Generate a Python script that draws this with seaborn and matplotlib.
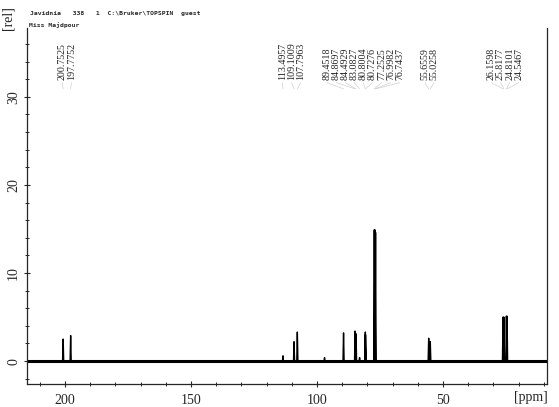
import matplotlib
matplotlib.use("Agg")
import matplotlib.pyplot as plt
import numpy as np
import pandas as pd
import seaborn as sns
from matplotlib.ticker import MultipleLocator

# labelled peaks (ppm) and their heights [rel]
PEAK_PPM = [200.7525, 197.7752, 113.4957, 109.1009, 107.7963, 89.4518,
            84.8697, 84.4929, 83.0827, 80.8004, 80.7276, 77.2525, 76.9982,
            76.7437, 55.6559, 55.0258, 26.1598, 25.8177, 24.8101, 24.5467]
PEAK_HEIGHT = [2.5, 2.9, 0.6, 2.2, 3.3, 3.2, 3.4, 3.1, 0.4, 3.3, 3.0,
               14.9, 14.9, 14.6, 2.6, 2.2, 5.0, 5.0, 5.1, 5.1]
# small unlabelled bump
EXTRA_PPM = [97.0]
EXTRA_HEIGHT = [0.4]

HEADER_1 = r"Javidnia   338   1  C:\Bruker\TOPSPIN  guest"
HEADER_2 = "Miss Majdpour"

X_RANGE = (215.1, 8.7)
Y_RANGE = (-2.6, 37.8)


def spectrum_frame(ppm, height, half_width=0.22):
    peaks = sorted(zip(ppm, height), key=lambda t: -t[0])
    xs, ys = [X_RANGE[0]], [0.0]
    for p, h in peaks:
        xs += [p + half_width, p, p - half_width]
        ys += [0.0, h, 0.0]
    xs.append(X_RANGE[1])
    ys.append(0.0)
    return pd.DataFrame({"ppm": xs, "rel": ys})


def label_positions(ppm, gap=3.6):
    clusters = [[p] for p in sorted(ppm, reverse=True)]

    def spread(c):
        mid = np.mean(c)
        n = len(c)
        return [mid + gap * ((n - 1) / 2 - i) for i in range(n)]

    merged = True
    while merged:
        merged = False
        for i in range(len(clusters) - 1):
            if spread(clusters[i])[-1] - spread(clusters[i + 1])[0] < gap:
                clusters[i] = clusters[i] + clusters.pop(i + 1)
                merged = True
                break
    out = []
    for c in clusters:
        out += list(zip(c, spread(c)))
    return out


def main() -> None:
    sns.set_style("ticks")
    plt.rcParams["font.family"] = ["Liberation Serif", "DejaVu Serif"]

    fig = plt.figure(figsize=(5.59, 4.07), dpi=100)
    ax = fig.add_axes([0.0483, 0.0565, 0.9302, 0.8745])

    df = spectrum_frame(PEAK_PPM + EXTRA_PPM, PEAK_HEIGHT + EXTRA_HEIGHT)
    ax.axhline(0, color="black", lw=2.2, zorder=1)
    sns.lineplot(data=df, x="ppm", y="rel", estimator=None, sort=False,
                 color="black", lw=1.0, ax=ax, zorder=2)

    for peak, lx in label_positions(PEAK_PPM):
        ax.text(lx, 31.9, f"{peak:.4f}", rotation=90, ha="center", va="bottom",
                fontsize=7.2, color="#222222")
        ax.plot([lx, peak], [31.6, 30.9], color="#d0d0d0", lw=0.5)

    ax.set_xlim(*X_RANGE)
    ax.set_ylim(*Y_RANGE)
    ax.xaxis.set_major_locator(MultipleLocator(50))
    ax.xaxis.set_minor_locator(MultipleLocator(10))
    ax.yaxis.set_major_locator(MultipleLocator(10))
    ax.yaxis.set_minor_locator(MultipleLocator(2))
    ax.tick_params(which="major", direction="inout", length=4, width=0.8,
                   labelsize=10, pad=3)
    ax.tick_params(which="minor", direction="inout", length=3, width=0.7)
    ax.tick_params(axis="x", pad=5)
    for t in ax.get_yticklabels():
        t.set_rotation(90)
        t.set_va("center")
    ax.set_xlabel("")
    ax.set_ylabel("")
    sns.despine(ax=ax, top=True, right=False)
    for s in ax.spines.values():
        s.set_linewidth(0.9)

    fig.text(8 / 559, 1 - 18 / 407, "[rel]", rotation=90, ha="center",
             va="center", fontsize=10)
    fig.text(531 / 559, 1 - 397 / 407, "[ppm]", ha="center", va="center",
             fontsize=10)
    fig.text(30 / 559, 1 - 13 / 407, HEADER_1, family="DejaVu Sans Mono",
             fontweight="bold", fontsize=4.6, ha="left", va="center")
    fig.text(29 / 559, 1 - 25 / 407, HEADER_2, family="DejaVu Sans Mono",
             fontweight="bold", fontsize=4.6, ha="left", va="center")

    fig.savefig("out.png", dpi=100)
    plt.close(fig)


if __name__ == "__main__":
    main()
